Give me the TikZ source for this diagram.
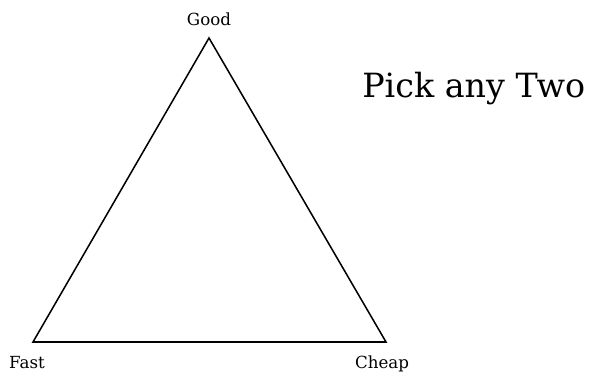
\documentclass[tikz,border=0pt]{standalone}
\usepackage{fontspec}
\setmainfont{DejaVu Serif}
\usetikzlibrary{positioning}

\begin{document}
\begin{tikzpicture}[
    x=0.72pt, y=-0.72pt,
    corner/.style={font=\fontsize{12}{14}\selectfont, inner sep=0pt},
    title/.style={font=\fontsize{24}{28}\selectfont, inner sep=0pt, anchor=west},
    edge/.style={draw=black, line width=1.1pt, line join=miter}
]
\useasboundingbox (0,0) rectangle (614,372);

% Corners of the triangle
\coordinate (good) at (209, 38);
\coordinate (fast) at (33, 342);
\coordinate (cheap) at (386, 342);

% Triangle
\draw[edge] (good) -- (cheap) -- (fast) -- cycle;

% Labels
\node[corner, anchor=base] (goodlbl) at (209, 26) {Good};
\node[corner, anchor=base] (fastlbl) at (27, 368) {Fast};
\node[corner, anchor=base] (cheaplbl) at (382, 368) {Cheap};

\node[title] (pick) at (362, 89) {Pick any Two};

\end{tikzpicture}
\end{document}
